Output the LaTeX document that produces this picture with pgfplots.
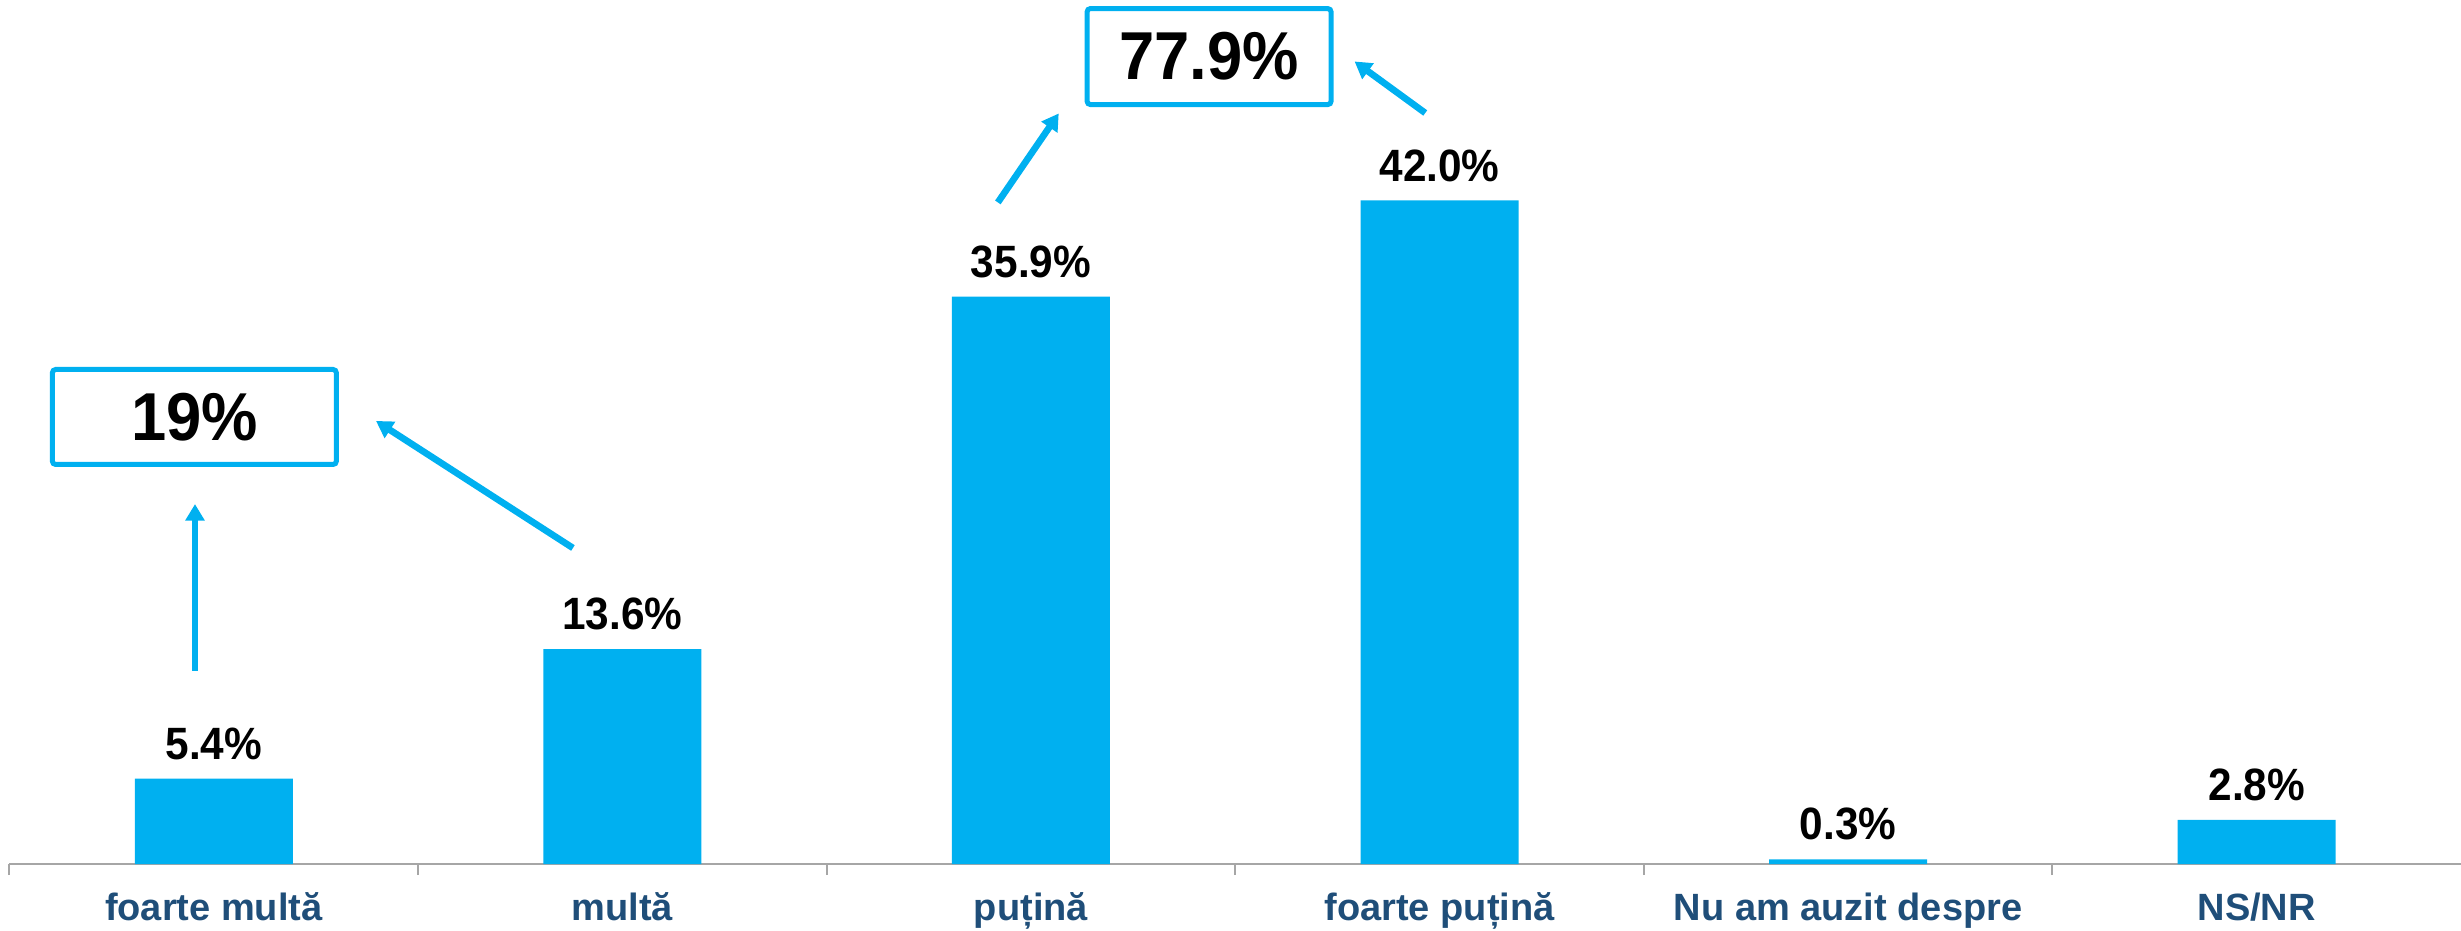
\documentclass[border=0pt]{standalone}
\usepackage{pgfplots}
\pgfplotsset{compat=1.18}
\usepackage{fontspec}
\usepackage{graphicx}
\setmainfont{Liberation Sans}
\usetikzlibrary{arrows.meta}
\definecolor{barblue}{HTML}{00B0F0}
\definecolor{labblue}{HTML}{1F4E79}
\definecolor{axgray}{HTML}{A6A6A6}
\begin{document}
\begin{tikzpicture}
\begin{axis}[
  at={(0,0)}, anchor=south west,
  scale only axis, width=735.45pt, height=259.2pt,
  xmin=-0.5, xmax=5.5, ymin=0, ymax=54.68,
  ybar, bar width=47.4pt,
  clip=false,
  axis y line=none, axis x line*=bottom,
  x axis line style={-, draw=axgray, line width=0.8pt},
  xtick={0,...,5},
  xticklabels={foarte multă, multă, puțină, foarte puțină, Nu am auzit despre, NS/NR},
  major tick length=0pt,
  minor xtick={-0.5,0.5,1.5,2.5,3.5,4.5},
  minor x tick style={draw=axgray, line width=0.6pt},
  minor tick length=3.3pt,
  tick align=outside,
  xticklabel style={font=\fontsize{11.4}{12}\selectfont\bfseries, text=labblue, anchor=base, yshift=-16.8pt, inner sep=0pt},
  /pgf/number format/assume math mode=true,
  nodes near coords={\scalebox{1}[1.07]{\pgfmathprintnumber[fixed,fixed zerofill,precision=1]{\pgfplotspointmeta}\%}},
  every node near coord/.append style={font=\fontsize{12.7}{14}\selectfont\bfseries, text=black, anchor=base, yshift=5.8pt, inner sep=0pt},
]
\addplot[fill=barblue, draw=none] coordinates {(0,5.4) (1,13.6) (2,35.9) (3,42.0) (4,0.3) (5,2.8)};

\draw[barblue, line width=2pt, -{Triangle[length=5pt,width=5.6pt]}] (axis cs:-0.046,12.22) -- (axis cs:-0.046,22.78);
\draw[barblue, line width=2pt, -{Triangle[length=5pt,width=5.6pt]}] (axis cs:0.879,20.0) -- (axis cs:0.397,28.04);
\draw[barblue, line width=2pt, -{Triangle[length=5pt,width=5.6pt]}] (axis cs:1.919,41.87) -- (axis cs:2.068,47.5);
\draw[barblue, line width=2pt, -{Triangle[length=5pt,width=5.6pt]}] (axis cs:2.965,47.53) -- (axis cs:2.792,50.79);
\node[draw=barblue, line width=1.5pt, rounded corners=1pt, minimum width=85.2pt, minimum height=28.5pt, inner sep=0pt, font=\fontsize{19}{20}\selectfont\bfseries] at (axis cs:-0.0475,28.29) {\scalebox{1}[1.07]{19\%}};
\node[draw=barblue, line width=1.5pt, rounded corners=1pt, minimum width=73.2pt, minimum height=28.8pt, inner sep=0pt, font=\fontsize{19}{20}\selectfont\bfseries] at (axis cs:2.436,51.1) {\scalebox{1}[1.07]{77.9\%}};
\end{axis}
\pgfresetboundingbox
\path[use as bounding box] (-2.85pt,-19.8pt) rectangle (735.45pt,259.2pt);
\end{tikzpicture}
\end{document}
